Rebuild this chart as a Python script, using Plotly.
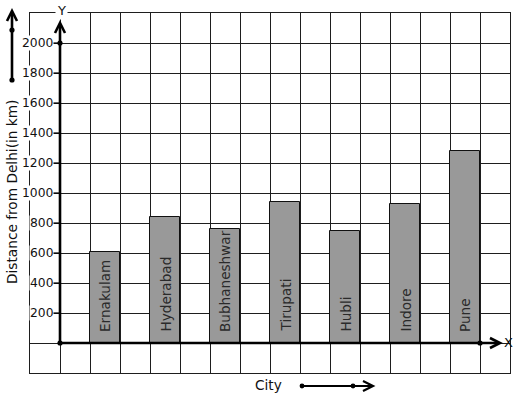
import plotly.graph_objects as go

# ---- data ----
cities = ["Ernakulam", "Hyderabad", "Bubhaneshwar", "Tirupati", "Hubli", "Indore", "Pune"]
distances = [605, 840, 760, 940, 750, 930, 1280]
y_ticks = [200, 400, 600, 800, 1000, 1200, 1400, 1600, 1800, 2000]
y_title = "Distance from Delhi(in km)"
x_title = "City"

# ---- layout geometry (pixels) ----
W, H = 517, 399
L, R, T, B = 30, 7, 13, 26
PW, PH = W - L - R, H - T - B


def PX(px):
    return (px - L) / PW


def PY(py):
    return (H - B - py) / PH


FONT = "DejaVu Sans"
bar_x = [2.5 + 2 * i for i in range(len(cities))]

fig = go.Figure()
fig.add_trace(go.Bar(
    x=bar_x, y=distances, width=1,
    marker=dict(color="#999999", line=dict(color="#111111", width=1)),
    hoverinfo="skip", showlegend=False,
))

shapes = []
ann = []
AXW = 2.6
K = "#000000"


def line(x0, y0, x1, y1, w=AXW):
    shapes.append(dict(type="line", xref="paper", yref="paper",
                       x0=PX(x0), y0=PY(y0), x1=PX(x1), y1=PY(y1),
                       line=dict(color=K, width=w), layer="above"))


def chev(pts, w=AXW):
    p = "M " + " L ".join(f"{PX(a)},{PY(b)}" for a, b in pts)
    shapes.append(dict(type="path", xref="paper", yref="paper", path=p,
                       line=dict(color=K, width=w), layer="above"))


def dot(cx, cy, r=2.6):
    shapes.append(dict(type="circle", xref="paper", yref="paper",
                       x0=PX(cx - r), x1=PX(cx + r), y0=PY(cy + r), y1=PY(cy - r),
                       fillcolor=K, line=dict(color=K, width=0), layer="above"))


# y axis with arrow
line(60, 343, 60, 24)
chev([(55, 33), (60, 23), (65, 33)])
dot(60, 43)
# x axis with arrow
line(60, 343, 499, 343)
chev([(490, 338), (500, 343), (490, 348)])
dot(60, 343)
dot(480, 343)
# top-left arrow
line(12, 80, 12, 12)
chev([(7, 21), (12, 11), (17, 21)])
dot(12, 30)
dot(12, 80)
# City arrow
line(302, 386, 372, 386, 2.2)
chev([(363, 381), (373, 386), (363, 391)], 2.2)
dot(302, 386, 2.4)
dot(353, 386, 2.4)

# tick marks + labels
for v in y_ticks:
    shapes.append(dict(type="line", xref="paper", yref="y", x0=PX(53), x1=PX(60),
                       y0=v, y1=v, line=dict(color=K, width=1.2), layer="above"))
    ann.append(dict(text=str(v), xref="paper", yref="y", x=PX(53.5), y=v,
                    xanchor="right", yanchor="middle", showarrow=False,
                    bgcolor="white", borderpad=0,
                    font=dict(family=FONT, size=12.3, color="#111")))

# bar labels
for xv, c in zip(bar_x, cities):
    ann.append(dict(text=c, x=xv, y=0, xref="x", yref="y", textangle=-90,
                    xanchor="center", yanchor="bottom", yshift=9, showarrow=False,
                    font=dict(family=FONT, size=13.6, color="#2a2a2a")))

ann.append(dict(text=y_title, xref="paper", yref="paper", x=PX(12), y=PY(192),
                textangle=-90, showarrow=False, xanchor="center", yanchor="middle",
                font=dict(family=FONT, size=13.7, color="#111")))
ann.append(dict(text=x_title, xref="paper", yref="paper", x=PX(268.5), y=PY(385),
                showarrow=False, xanchor="center", yanchor="middle",
                font=dict(family=FONT, size=13.7, color="#111")))
ann.append(dict(text="Y", xref="paper", yref="paper", x=PX(61), y=PY(10),
                showarrow=False, xanchor="center", yanchor="middle",
                bgcolor="white", borderpad=1,
                font=dict(family=FONT, size=13, color="#111")))
ann.append(dict(text="X", xref="paper", yref="paper", x=PX(508), y=PY(342),
                showarrow=False, xanchor="center", yanchor="middle",
                font=dict(family=FONT, size=13, color="#111")))

GRID = "#1e1e1e"
fig.update_layout(
    width=W, height=H,
    margin=dict(l=L, r=R, t=T, b=B, pad=0),
    paper_bgcolor="white", plot_bgcolor="white",
    shapes=shapes, annotations=ann,
    xaxis=dict(range=[0, 16], tick0=0, dtick=1, showgrid=True, gridcolor=GRID,
               gridwidth=1, zeroline=False, showticklabels=False, ticks="",
               showline=True, mirror=True, linecolor=GRID, linewidth=1, fixedrange=True),
    yaxis=dict(range=[-200, 2200], tick0=0, dtick=200, showgrid=True, gridcolor=GRID,
               gridwidth=1, zeroline=False, showticklabels=False, ticks="",
               showline=True, mirror=True, linecolor=GRID, linewidth=1, fixedrange=True),
    bargap=0,
)

fig.write_html("out.html", config={"displayModeBar": False},
               post_script="document.body.style.margin='0';document.body.style.overflow='hidden';")
